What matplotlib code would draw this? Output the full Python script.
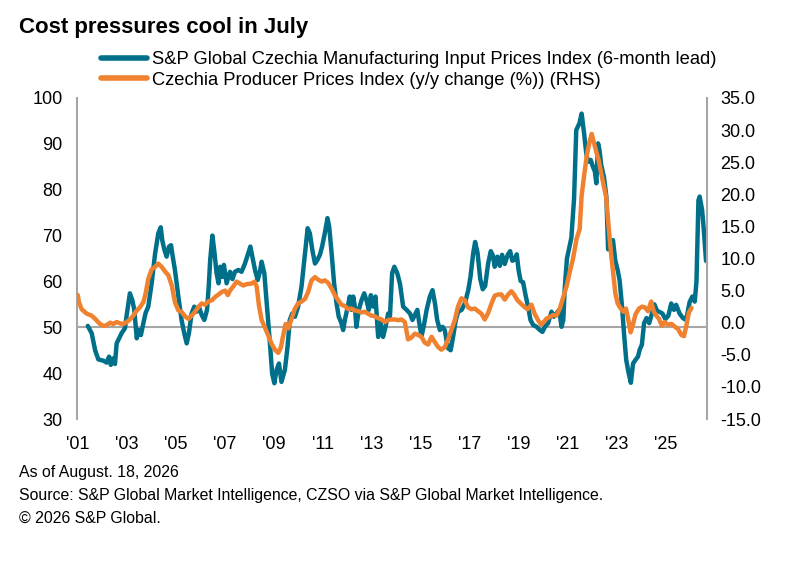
import matplotlib
matplotlib.use("Agg")
import matplotlib.pyplot as plt
from matplotlib.lines import Line2D

plt.rcParams['font.family'] = ['Liberation Sans', 'DejaVu Sans']

# S&P Global Czechia Manufacturing Input Prices Index (6-month lead) - left axis
pmi_x = [2001.41, 2001.57, 2001.71, 2001.84, 2002.05, 2002.18, 2002.28, 2002.35, 2002.43, 2002.52,
         2002.59, 2002.69, 2002.79, 2002.93, 2002.99, 2003.13, 2003.23, 2003.31, 2003.41, 2003.50,
         2003.58, 2003.68, 2003.77, 2003.88, 2004.02, 2004.16, 2004.29, 2004.39, 2004.45, 2004.54,
         2004.63, 2004.73, 2004.81, 2004.88, 2004.97, 2005.11, 2005.24, 2005.35, 2005.45, 2005.54,
         2005.65, 2005.76, 2005.86, 2005.95, 2006.06, 2006.17, 2006.28, 2006.35, 2006.41, 2006.50,
         2006.58, 2006.67, 2006.75, 2006.82, 2006.90, 2006.97, 2007.08, 2007.22, 2007.32, 2007.42,
         2007.56, 2007.69, 2007.83, 2008.05, 2008.13, 2008.24, 2008.35, 2008.44, 2008.51, 2008.62,
         2008.71, 2008.85, 2008.94, 2009.03, 2009.12, 2009.22, 2009.32, 2009.46, 2009.57, 2009.66,
         2009.76, 2009.87, 2010.00, 2010.14, 2010.28, 2010.39, 2010.48, 2010.58, 2010.69, 2010.79,
         2010.89, 2010.98, 2011.09, 2011.20, 2011.27, 2011.37, 2011.47, 2011.57, 2011.66, 2011.75,
         2011.84, 2011.91, 2012.00, 2012.11, 2012.18, 2012.25, 2012.32, 2012.38, 2012.48, 2012.59,
         2012.70, 2012.79, 2012.89, 2012.97, 2013.07, 2013.16, 2013.27, 2013.37, 2013.47, 2013.57,
         2013.68, 2013.75, 2013.84, 2013.93, 2014.05, 2014.16, 2014.29, 2014.43, 2014.57, 2014.67,
         2014.77, 2014.87, 2014.95, 2015.04, 2015.14, 2015.25, 2015.38, 2015.49, 2015.59, 2015.68,
         2015.79, 2015.90, 2015.99, 2016.06, 2016.13, 2016.23, 2016.33, 2016.44, 2016.54, 2016.68,
         2016.81, 2016.95, 2017.04, 2017.15, 2017.23, 2017.33, 2017.44, 2017.54, 2017.64, 2017.76,
         2017.87, 2017.96, 2018.03, 2018.14, 2018.24, 2018.33, 2018.44, 2018.56, 2018.66, 2018.75,
         2018.85, 2018.93, 2019.01, 2019.09, 2019.19, 2019.29, 2019.40, 2019.49, 2019.60, 2019.74,
         2019.87, 2019.98, 2020.08, 2020.21, 2020.35, 2020.44, 2020.55, 2020.66, 2020.76, 2020.83,
         2020.89, 2020.98, 2021.08, 2021.16, 2021.27, 2021.36, 2021.49, 2021.58, 2021.68, 2021.77,
         2021.84, 2021.95, 2022.04, 2022.12, 2022.18, 2022.25, 2022.31, 2022.38, 2022.49, 2022.59,
         2022.66, 2022.76, 2022.86, 2022.95, 2023.05, 2023.13, 2023.23, 2023.31, 2023.40, 2023.50,
         2023.59, 2023.68, 2023.78, 2023.88, 2023.95, 2024.04, 2024.13, 2024.23, 2024.34, 2024.43,
         2024.55, 2024.66, 2024.78, 2024.88, 2025.00, 2025.12, 2025.24, 2025.35, 2025.44, 2025.58,
         2025.72, 2025.85, 2025.99, 2026.10, 2026.20, 2026.27, 2026.35, 2026.40, 2026.50, 2026.57,
         2026.66]
pmi_y = [50.3, 48.7, 45.0, 43.0, 42.7, 42.3, 43.6, 41.8, 43.2, 42.0,
         46.5, 47.6, 48.7, 49.8, 52.3, 57.4, 55.9, 53.8, 47.6, 49.4,
         48.3, 50.9, 53.1, 54.5, 59.6, 66.1, 70.5, 71.8, 69.0, 66.9,
         65.4, 67.6, 67.9, 65.4, 62.5, 56.7, 51.6, 48.7, 46.5, 48.7,
         53.0, 54.5, 53.4, 54.5, 52.7, 51.6, 53.8, 58.9, 64.7, 70.0,
         66.5, 61.8, 59.6, 63.2, 61.0, 63.6, 59.6, 62.1, 60.5, 62.1,
         62.5, 62.1, 63.9, 67.6, 65.4, 62.5, 60.3, 62.1, 64.3, 61.8,
         55.9, 46.5, 39.9, 37.8, 40.7, 42.1, 38.1, 40.7, 45.8, 51.6,
         53.0, 52.3, 54.5, 58.9, 66.1, 71.6, 70.5, 66.9, 63.9, 64.7,
         65.8, 67.6, 70.5, 73.8, 71.9, 66.1, 59.6, 55.2, 52.3, 51.2,
         49.4, 51.6, 53.8, 56.7, 53.8, 56.7, 54.5, 50.1, 53.8, 55.9,
         57.4, 55.9, 53.8, 57.0, 54.5, 56.7, 47.9, 50.9, 47.9, 50.1,
         53.0, 52.3, 61.8, 63.2, 61.8, 59.5, 54.5, 53.8, 53.0, 51.6,
         52.7, 53.8, 50.9, 48.0, 50.5, 53.8, 56.7, 58.1, 55.2, 51.6,
         49.4, 50.1, 49.4, 47.2, 45.4, 45.0, 47.9, 51.6, 53.4, 53.8,
         55.2, 58.1, 61.0, 66.1, 68.6, 66.2, 60.5, 58.3, 59.0, 63.9,
         66.6, 65.6, 63.2, 65.4, 63.4, 65.8, 63.8, 65.8, 66.6, 64.5,
         64.8, 65.9, 62.3, 60.1, 59.8, 57.0, 54.3, 51.6, 50.5, 50.1,
         49.4, 49.0, 50.1, 50.9, 53.4, 52.3, 53.0, 53.8, 50.1, 51.6,
         58.5, 65.0, 67.5, 69.5, 78.0, 93.0, 94.5, 96.6, 92.3, 87.9,
         86.1, 86.5, 85.0, 84.0, 81.4, 90.1, 88.6, 85.4, 82.8, 78.5,
         67.0, 68.3, 69.0, 64.7, 62.5, 60.3, 54.5, 48.7, 42.9, 40.0,
         37.9, 42.1, 42.9, 43.6, 45.1, 46.2, 50.9, 52.0, 50.9, 52.6,
         55.0, 53.6, 53.3, 53.0, 51.8, 52.5, 55.2, 53.8, 54.9, 53.0,
         52.0, 51.6, 55.5, 56.7, 55.6, 60.0, 77.7, 78.5, 75.6, 71.2,
         64.5]

# Czechia Producer Prices Index (y/y change, %) - right axis
ppi_x = [2001.00, 2001.05, 2001.16, 2001.37, 2001.57, 2001.71, 2001.91, 2002.05, 2002.18, 2002.32,
         2002.45, 2002.59, 2002.73, 2002.86, 2003.00, 2003.13, 2003.27, 2003.41, 2003.54, 2003.68,
         2003.77, 2003.88, 2004.02, 2004.16, 2004.29, 2004.43, 2004.56, 2004.70, 2004.84, 2004.97,
         2005.11, 2005.24, 2005.38, 2005.52, 2005.65, 2005.79, 2005.92, 2006.06, 2006.20, 2006.33,
         2006.48, 2006.61, 2006.75, 2006.89, 2007.02, 2007.13, 2007.22, 2007.36, 2007.49, 2007.62,
         2007.76, 2007.90, 2008.10, 2008.22, 2008.31, 2008.40, 2008.51, 2008.64, 2008.78, 2008.92,
         2009.05, 2009.19, 2009.30, 2009.39, 2009.49, 2009.60, 2009.73, 2009.87, 2010.00, 2010.14,
         2010.28, 2010.41, 2010.55, 2010.69, 2010.82, 2010.96, 2011.09, 2011.23, 2011.37, 2011.50,
         2011.64, 2011.77, 2011.91, 2012.05, 2012.18, 2012.32, 2012.45, 2012.59, 2012.72, 2012.86,
         2012.99, 2013.13, 2013.27, 2013.41, 2013.54, 2013.68, 2013.81, 2013.95, 2014.09, 2014.22,
         2014.36, 2014.49, 2014.63, 2014.77, 2014.90, 2015.04, 2015.17, 2015.31, 2015.45, 2015.58,
         2015.72, 2015.85, 2015.99, 2016.13, 2016.26, 2016.40, 2016.53, 2016.67, 2016.81, 2016.94,
         2017.08, 2017.22, 2017.35, 2017.49, 2017.62, 2017.76, 2017.90, 2018.03, 2018.17, 2018.30,
         2018.44, 2018.58, 2018.71, 2018.82, 2018.96, 2019.09, 2019.23, 2019.37, 2019.53, 2019.66,
         2019.80, 2019.92, 2020.03, 2020.14, 2020.28, 2020.42, 2020.55, 2020.69, 2020.83, 2020.96,
         2021.10, 2021.23, 2021.37, 2021.50, 2021.58, 2021.68, 2021.80, 2021.90, 2021.99, 2022.09,
         2022.18, 2022.27, 2022.37, 2022.48, 2022.58, 2022.67, 2022.77, 2022.88, 2022.96, 2023.05,
         2023.16, 2023.28, 2023.39, 2023.49, 2023.58, 2023.68, 2023.78, 2023.92, 2024.05, 2024.16,
         2024.29, 2024.42, 2024.53, 2024.63, 2024.74, 2024.86, 2024.97, 2025.11, 2025.25, 2025.38,
         2025.52, 2025.65, 2025.76, 2025.86, 2025.96, 2026.07]
ppi_y = [4.3, 3.2, 2.1, 1.4, 1.1, 0.6, -0.2, -0.5, -0.4, 0.0,
         -0.2, 0.1, -0.1, -0.2, 0.1, 0.5, 1.1, 1.9, 2.4, 3.2,
         4.5, 6.8, 8.3, 8.7, 9.2, 8.7, 8.0, 7.4, 5.8, 3.2,
         1.9, 1.7, 1.0, 0.6, 1.1, 1.7, 2.4, 3.0, 2.8, 3.3,
         3.5, 4.0, 4.4, 4.8, 5.0, 4.3, 5.0, 5.7, 6.4, 6.1,
         5.8, 6.0, 6.1, 6.4, 5.6, 2.7, 0.4, -0.7, -2.0, -3.3,
         -4.2, -4.7, -3.8, -2.0, -0.2, -0.9, 0.6, 2.2, 3.0, 3.3,
         3.7, 4.8, 6.6, 7.1, 6.7, 6.4, 6.6, 6.2, 5.3, 4.3,
         3.5, 2.8, 2.6, 2.1, 2.2, 1.9, 1.8, 1.6, 1.7, 1.4,
         1.1, 1.0, 0.7, 0.5, 0.1, 0.4, 0.5, 0.5, 0.4, 0.5,
         0.1, -2.6, -2.3, -1.7, -1.9, -2.2, -3.1, -3.4, -2.2, -3.0,
         -3.8, -4.2, -3.8, -2.6, -1.1, 0.4, 2.5, 3.8, 3.5, 2.4,
         2.1, 2.2, 1.8, 1.4, 0.5, 1.5, 3.0, 4.2, 4.4, 4.4,
         3.6, 4.4, 4.9, 4.4, 3.5, 3.0, 2.5, 2.1, 2.8, 1.4,
         0.4, -0.3, 0.1, 0.6, 0.9, 1.2, 1.1, 2.2, 4.0, 5.6,
         8.0, 10.0, 13.0, 14.6, 19.8, 22.9, 26.3, 28.1, 29.4, 27.9,
         26.6, 25.4, 23.5, 21.4, 19.6, 15.5, 11.2, 7.4, 4.5, 3.0,
         2.3, 1.7, 2.2, 0.4, -1.5, -0.2, 1.3, 2.2, 2.5, 2.4,
         1.8, 3.3, 1.7, 1.1, 0.6, -0.5, 0.1, -0.3, -0.2, -0.6,
         -1.0, -1.9, -2.1, -0.4, 1.6, 2.3]

years = list(range(2001, 2027, 2))
year_labels = ["'" + str(y)[2:] for y in years]

BLUE = '#00708A'
ORANGE = '#F0812F'
GRAY = '#A6A6A6'
FS = 13

fig = plt.figure(figsize=(8.01, 5.61), dpi=100)
ax = fig.add_axes([77/801, 1 - 419/561, (707-77)/801, (419-98)/561])
ax2 = ax.twinx()

ax.set_xlim(2000.97, 2026.70)
ax.set_ylim(30, 100)
ax2.set_ylim(-15, 35)

ax.axhline(50, color=GRAY, lw=1.5, zorder=1)
ax.plot(pmi_x, pmi_y, color=BLUE, lw=3.2, solid_joinstyle='round', solid_capstyle='round', zorder=2)
ax2.plot(ppi_x, ppi_y, color=ORANGE, lw=3.2, solid_joinstyle='round', solid_capstyle='round', zorder=3)

for a in (ax, ax2):
    for s in ('top', 'bottom'):
        a.spines[s].set_visible(False)
ax.spines['right'].set_visible(False)
ax2.spines['left'].set_visible(False)
ax.spines['left'].set_color(GRAY)
ax.spines['left'].set_linewidth(1.5)
ax2.spines['right'].set_color(GRAY)
ax2.spines['right'].set_linewidth(1.5)

ax.set_xticks(years)
ax.set_xticklabels(year_labels)
ax.set_yticks(range(30, 101, 10))
ax2.set_yticks(range(-15, 36, 5))
ax2.set_yticklabels([f'{v:.1f}' for v in range(-15, 36, 5)])

ax.tick_params(axis='x', length=0, pad=12, labelsize=FS, colors='black')
ax.tick_params(axis='y', length=0, pad=10.5, labelsize=FS, colors='black')
ax2.tick_params(axis='y', length=0, pad=9.5, labelsize=FS, colors='black')

fig.text(19/801, 1 - 33/561, 'Cost pressures cool in July', fontsize=16,
         fontweight='bold', ha='left', va='baseline')

handles = [Line2D([], [], color=BLUE, lw=4, solid_capstyle='round'),
           Line2D([], [], color=ORANGE, lw=4, solid_capstyle='round')]
labels = ['S&P Global Czechia Manufacturing Input Prices Index (6-month lead)',
          'Czechia Producer Prices Index (y/y change (%)) (RHS)']
fig.legend(handles, labels, loc='upper left', bbox_to_anchor=(101/801, 1 - 51.5/561),
           frameon=False, fontsize=13.2, handlelength=2.5, handletextpad=0.3,
           labelspacing=0.17, borderpad=0, borderaxespad=0)

FFS = 11.4
fig.text(19/801, 1 - 477/561, 'As of August. 18, 2026', fontsize=FFS, ha='left', va='baseline')
fig.text(19/801, 1 - 500/561,
         'Source: S&P Global Market Intelligence, CZSO via S&P Global Market Intelligence.',
         fontsize=FFS, ha='left', va='baseline')
fig.text(19/801, 1 - 522.5/561, '\u00a9 2026 S&P Global.', fontsize=FFS, ha='left', va='baseline')

fig.savefig('out.png', dpi=100)
